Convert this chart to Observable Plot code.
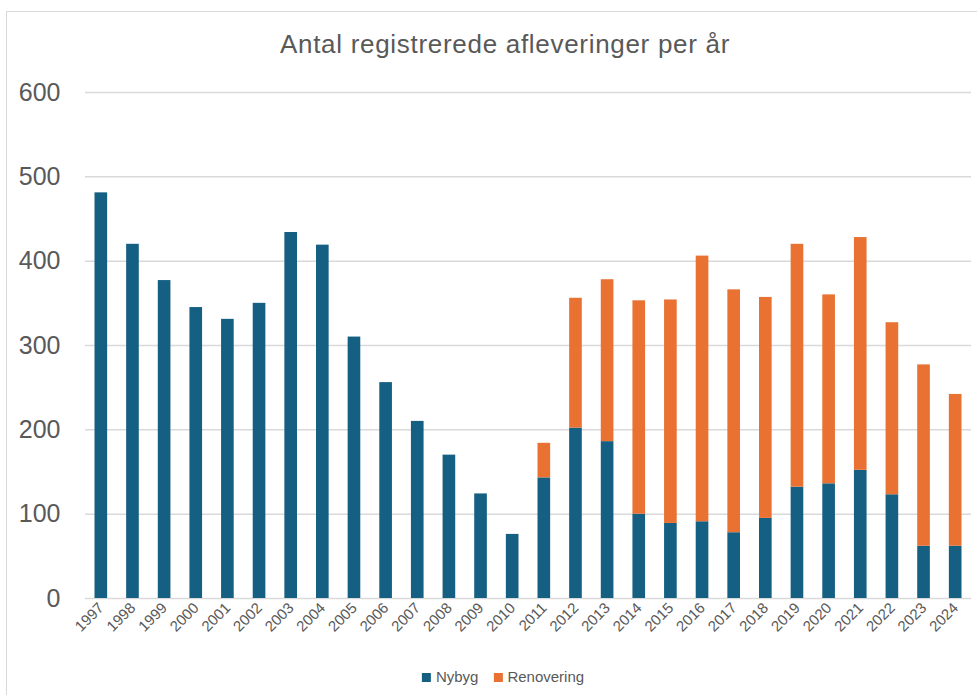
<!DOCTYPE html>
<html>
<head>
<meta charset="utf-8">
<script src="https://cdn.jsdelivr.net/npm/d3@7"></script>
<script src="https://cdn.jsdelivr.net/npm/@observablehq/plot@0.6"></script>
<style>
  html, body { margin: 0; padding: 0; background: #fff; }
  body { width: 977px; height: 695px; position: relative; overflow: hidden; font-family: "Liberation Sans", Arial, sans-serif; color: #595959; }
  #frame { position: absolute; left: 6px; top: 11px; width: 980px; height: 700px; border-left: 1.5px solid #d9d9d9; border-top: 1.5px solid #d9d9d9; box-sizing: border-box; }
  #title { position: absolute; top: 29px; left: 505px; transform: translateX(-50%); white-space: nowrap; font-size: 26px; letter-spacing: 0.7px; line-height: 30px; color: #595959; }
  #chart { position: absolute; left: 0; top: 0; }
  #legend { position: absolute; top: 668px; left: 503px; transform: translateX(-50%); display: flex; align-items: center; gap: 15px; font-size: 15px; line-height: 18px; white-space: nowrap; }
  .item { display: flex; align-items: center; gap: 5px; }
  .sw { width: 9px; height: 9px; display: inline-block; }
</style>
</head>
<body>
<div id="frame"></div>
<div id="chart"></div>
<div id="title">Antal registrerede afleveringer per år</div>
<div id="legend"></div>
<script>
const years = ["1997","1998","1999","2000","2001","2002","2003","2004","2005","2006","2007","2008","2009","2010","2011","2012","2013","2014","2015","2016","2017","2018","2019","2020","2021","2022","2023","2024"];
const nybyg = [481,420,377,345,331,350,434,419,310,256,210,170,124,76,143,202,186,100,89,91,78,95,132,136,152,123,62,62];
const renovering = [0,0,0,0,0,0,0,0,0,0,0,0,0,0,41,154,192,253,265,315,288,262,288,224,276,204,215,180];
const seriesNames = ["Nybyg", "Renovering"];
const seriesColors = ["#156082", "#E97132"];
const yTicks = [0, 100, 200, 300, 400, 500, 600];

const data = [];
years.forEach((y, i) => {
  data.push({year: y, series: "Nybyg", value: nybyg[i]});
  data.push({year: y, series: "Renovering", value: renovering[i]});
});

const plot = Plot.plot({
  width: 977,
  height: 650,
  marginLeft: 85,
  marginRight: 6,
  marginTop: 92,
  marginBottom: 52,
  style: {fontFamily: "'Liberation Sans', Arial, sans-serif", color: "#595959", background: "transparent"},
  x: {domain: years, padding: 0, round: false, label: null},
  y: {domain: [0, 600], label: null},
  color: {domain: seriesNames, range: seriesColors},
  marks: [
    Plot.ruleY(yTicks, {stroke: "#d9d9d9", strokeWidth: 1.5}),
    Plot.barY(data, {x: "year", y: "value", fill: "series", order: seriesNames, insetLeft: 9.5, insetRight: 9.5}),
    Plot.axisY({ticks: yTicks, tickSize: 0, tickPadding: 25, fontSize: 25, fill: "#595959", label: null}),
    Plot.axisX({tickSize: 0, tickRotate: -45, tickPadding: 7, fontSize: 15, fill: "#595959", label: null})
  ]
});
document.getElementById("chart").appendChild(plot);

const legend = document.getElementById("legend");
seriesNames.forEach((name, i) => {
  const it = document.createElement("span");
  it.className = "item";
  const sw = document.createElement("span");
  sw.className = "sw";
  sw.style.background = seriesColors[i];
  const tx = document.createElement("span");
  tx.textContent = name;
  it.appendChild(sw);
  it.appendChild(tx);
  legend.appendChild(it);
});
</script>
</body>
</html>
